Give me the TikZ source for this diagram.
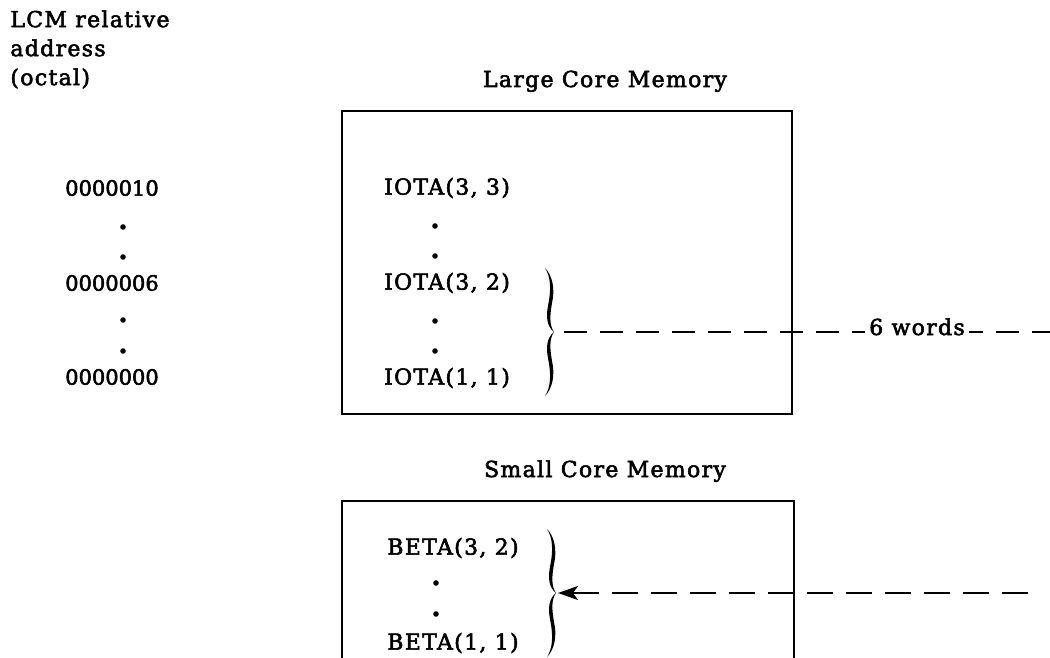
\documentclass[tikz,border=0pt]{standalone}
\usepackage{fontspec}
\setmainfont[FakeBold=2.5]{DejaVu Serif}
\newfontfamily\lblfont[LetterSpace=6,FakeBold=2.5]{DejaVu Serif}
\usetikzlibrary{arrows.meta}
\begin{document}
\begin{tikzpicture}[x=0.5pt,y=-0.5pt,
  lbl/.style={font=\lblfont\fontsize{11}{14.5}\selectfont, inner sep=0pt},
  num/.style={font=\fontsize{10.5}{14}\selectfont, inner sep=0pt},
  membox/.style={draw, line width=0.9pt, inner sep=0pt, anchor=north west},
  dashline/.style={line width=0.7pt, dash pattern=on 11.5pt off 6.5pt},
  dasharrow/.style={line width=0.7pt, dash pattern=on 13pt off 6.5pt, -{Stealth[length=10pt,width=7pt,inset=2.5pt]}},
  dotmark/.style={fill, circle, inner sep=0pt, minimum size=2.8pt},
  cbrace/.pic={
    \fill (-9,-64) .. controls (-1,-56) and (1,-42) .. (-2,-29)
          .. controls (-4,-17) and (-5,-7) .. (0,0)
          .. controls (-8,-6) and (-8,-17) .. (-5.5,-29)
          .. controls (-3,-42) and (-3,-55) .. (-9,-64) -- cycle;
    \fill (-9,64) .. controls (-1,56) and (1,42) .. (-2,29)
          .. controls (-4,17) and (-5,7) .. (0,0)
          .. controls (-8,6) and (-8,17) .. (-5.5,29)
          .. controls (-3,42) and (-3,55) .. (-9,64) -- cycle;
  }
]
\useasboundingbox (0,0) rectangle (1050,658);

% heading at left
\node[lbl, anchor=north west, align=left] (head) at (10,10) {LCM relative\\address\\(octal)};

% addresses
\node[num] (a10) at (112,188) {0000010};
\node[dotmark] (ad1) at (123,227) {};
\node[dotmark] (ad2) at (123,257) {};
\node[num] (a06) at (112,283) {0000006};
\node[dotmark] (ad3) at (123,320) {};
\node[dotmark] (ad4) at (123,351) {};
\node[num] (a00) at (112,377) {0000000};

% large core memory
\node[lbl, anchor=base] (lcmtitle) at (605,87) {Large Core Memory};
\node[membox, minimum width=225pt, minimum height=151.5pt] (lcm) at (341,110) {};
\node[lbl] (i33) at (447,188) {IOTA(3, 3)};
\node[dotmark] (id1) at (435,226) {};
\node[dotmark] (id2) at (435,256) {};
\node[lbl] (i32) at (447,283) {IOTA(3, 2)};
\node[dotmark] (id3) at (435,321) {};
\node[dotmark] (id4) at (435,351) {};
\node[lbl] (i11) at (447,378) {IOTA(1, 1)};
\coordinate (br1) at (554,332);
\pic at (br1) {cbrace};

\coordinate (e1) at (1050,332);
\draw[dashline, shorten <=5pt] (br1) -- (e1);
\node[lbl, anchor=base, fill=white, inner xsep=2pt, inner ysep=1pt] (words) at (917,335) {6 words};

% small core memory
\node[lbl, anchor=base] (scmtitle) at (605,477) {Small Core Memory};
\node[membox, minimum width=226pt, minimum height=81pt] (scm) at (341,500) {};
\node[lbl] (b32) at (453,548) {BETA(3, 2)};
\node[dotmark] (bd1) at (436,583) {};
\node[dotmark] (bd2) at (436,614) {};
\node[lbl] (b11) at (453,643) {BETA(1, 1)};
\coordinate (br2) at (556,593);
\pic at (br2) {cbrace};

\coordinate (e2) at (1028,593);
\draw[dasharrow, shorten >=1pt] (e2) -- (br2);
\end{tikzpicture}
\end{document}
